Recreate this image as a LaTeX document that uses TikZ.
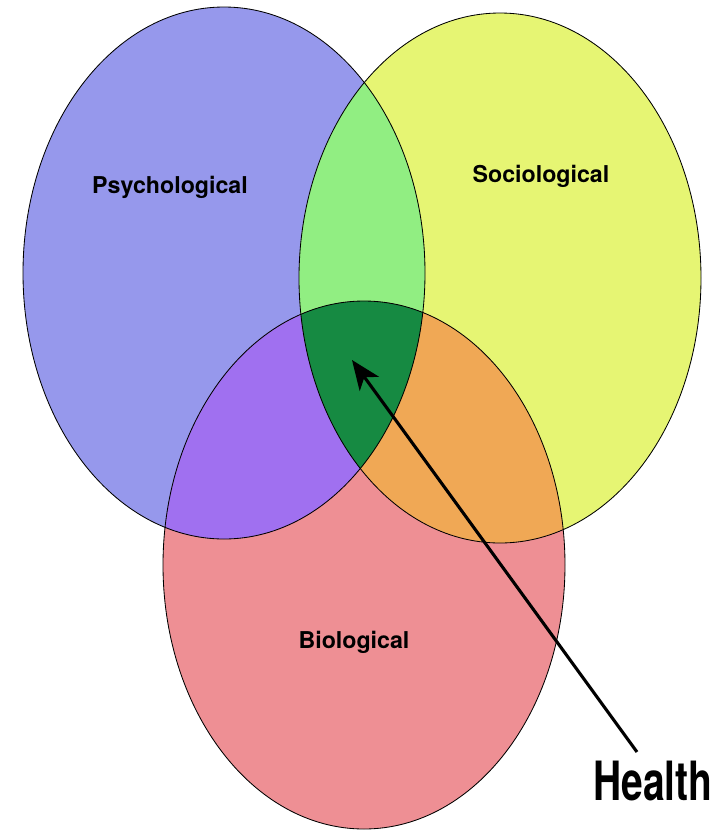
\documentclass[tikz,border=0pt]{standalone}
\usepackage{fontspec}
\setmainfont{TeX Gyre Heros}
\usetikzlibrary{arrows.meta}
\definecolor{psyblue}{RGB}{150,152,236}
\definecolor{socyellow}{RGB}{230,245,115}
\definecolor{biopink}{RGB}{238,143,148}
\definecolor{pslgreen}{RGB}{145,238,130}
\definecolor{pbpurple}{RGB}{160,112,240}
\definecolor{sborange}{RGB}{240,168,85}
\definecolor{healthgreen}{RGB}{22,138,66}
\newcommand\psyshape{(224,273) ellipse [x radius=201, y radius=266]}
\newcommand\socshape{(500,278) ellipse [x radius=201, y radius=265]}
\newcommand\bioshape{(364,565) ellipse [x radius=201, y radius=264]}
\tikzset{
  ring/.style={draw=black,line width=0.6pt},
  setlabel/.style={font=\fontsize{16.5}{18}\selectfont\bfseries,anchor=base,inner sep=0pt},
  pointer/.style={-{Stealth[length=21pt,width=17pt,inset=6pt]},line width=2.2pt}
}
\begin{document}
\begin{tikzpicture}[x=0.025cm,y=-0.025cm]
\useasboundingbox (0,0) rectangle (720,831);
% --- sets ---
\fill[psyblue] \psyshape;
\fill[socyellow] \socshape;
\fill[biopink] \bioshape;
% --- overlaps ---
\begin{scope}
  \clip \psyshape;
  \fill[pslgreen] \socshape;
  \fill[pbpurple] \bioshape;
\end{scope}
\begin{scope}
  \clip \socshape;
  \fill[sborange] \bioshape;
\end{scope}
\begin{scope}
  \clip \psyshape;
  \clip \socshape;
  \fill[healthgreen] \bioshape;
\end{scope}
\draw[ring] \psyshape;
\draw[ring] \socshape;
\draw[ring] \bioshape;
% --- labels ---
\node[setlabel] (psy) at (170,193) {Psychological};
\node[setlabel] (soc) at (541,182) {Sociological};
\node[setlabel] (bio) at (354,648) {Biological};
\node[font=\fontsize{38.5}{40}\selectfont\bfseries,anchor=base,inner sep=0pt] (health) at (653,800) {\scalebox{0.72}[1]{Health}};
% --- arrow ---
\coordinate (tail) at (637,752);
\coordinate (tip) at (352,360);
\draw[pointer] (tail) -- (tip);
\end{tikzpicture}
\end{document}
